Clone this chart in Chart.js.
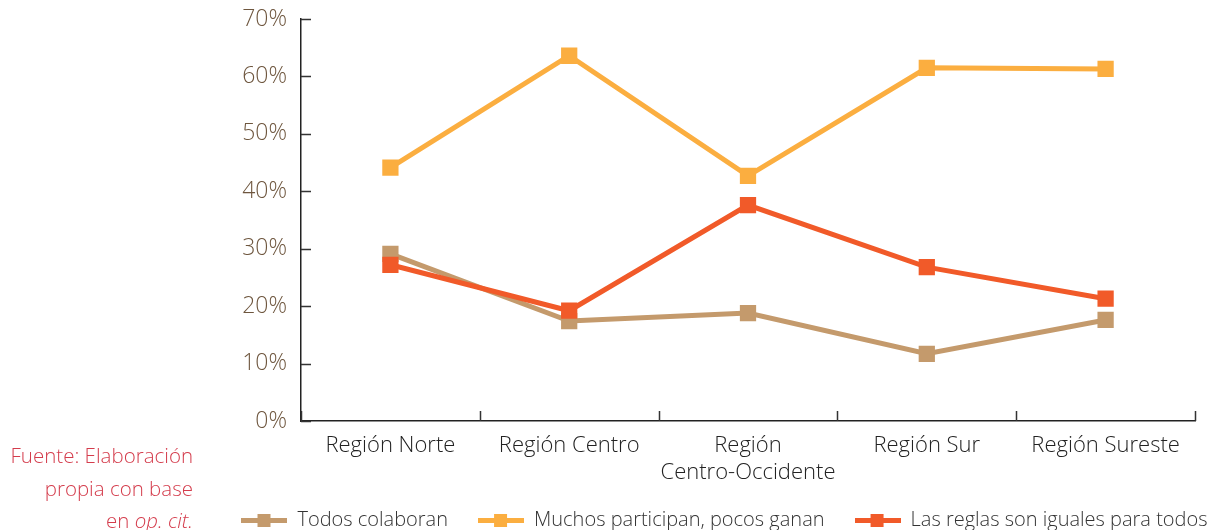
<!DOCTYPE html>
<html>
<head>
<meta charset="utf-8">
<script src="https://cdn.jsdelivr.net/npm/chart.js@4/dist/chart.umd.min.js"></script>
<style>
  html, body { margin: 0; padding: 0; background: #fff; overflow: hidden; }
  #wrap { position: relative; width: 1231px; height: 540px; }
  #note {
    position: absolute; right: 1038px; top: 439px; width: 240px;
    text-align: right; font-family: "Open Sans", sans-serif; font-weight: 300;
    font-size: 20.5px; line-height: 32.5px; color: #d43c4c; white-space: nowrap;
  }
</style>
</head>
<body>
<div id="wrap">
  <canvas id="c" width="1231" height="540"></canvas>
  <div id="note">Fuente: Elaboración<br>propia con base<br>en <i>op. cit.</i></div>
</div>
<script>
const categories = ["Región Norte", "Región Centro", ["Región", "Centro-Occidente"], "Región Sur", "Región Sureste"];
const seriesNames = ["Todos colaboran", "Muchos participan, pocos ganan", "Las reglas son iguales para todos"];
const todosColaboran = [29.1, 17.4, 18.8, 11.7, 17.6];
const muchosParticipan = [44.1, 63.6, 42.7, 61.5, 61.3];
const reglasIguales = [27.2, 19.2, 37.6, 26.8, 21.3];
const yTicks = [0, 10, 20, 30, 40, 50, 60, 70];
const colors = ["#c49a6c", "#fbae40", "#f15a29"];

const FONT = '"Open Sans", sans-serif';

function legendIcon(color) {
  const cv = document.createElement('canvas');
  cv.width = 46; cv.height = 14;
  const g = cv.getContext('2d');
  g.fillStyle = color;
  g.fillRect(0, 5, 46, 5);
  g.fillRect(16, 1, 13, 13);
  return cv;
}

const insideTicks = {
  id: 'insideTicks',
  afterDraw(chart) {
    const ctx = chart.ctx;
    const x = chart.scales.x, y = chart.scales.y;
    ctx.save();
    ctx.strokeStyle = '#333';
    ctx.lineWidth = 1.5;
    ctx.beginPath();
    yTicks.forEach(v => {
      const py = Math.round(y.getPixelForValue(v)) + 0.5;
      ctx.moveTo(x.left, py); ctx.lineTo(x.left + 10, py);
    });
    for (let i = 0; i <= categories.length; i++) {
      const px = Math.round(x.getPixelForValue(i - 0.5)) + 0.5;
      ctx.moveTo(px, y.bottom); ctx.lineTo(px, y.bottom - 10);
    }
    ctx.stroke();
    ctx.restore();
  }
};

const shiftLegend = {
  id: 'shiftLegend',
  afterLayout(chart) {
    const lg = chart.legend;
    if (lg) { lg.left += 52; lg.right += 52; }
  }
};

const data = [todosColaboran, muchosParticipan, reglasIguales];
const orders = [2, 1, 0];

new Chart(document.getElementById('c'), {
  type: 'line',
  data: {
    labels: categories,
    datasets: seriesNames.map((n, i) => ({
      label: n,
      data: data[i],
      borderColor: colors[i],
      backgroundColor: colors[i],
      borderWidth: 5,
      pointStyle: 'rect',
      pointRadius: 11.5,
      pointBorderWidth: 0,
      pointHoverRadius: 11.5,
      tension: 0,
      order: orders[i]
    }))
  },
  options: {
    responsive: false,
    animation: false,
    events: [],
    layout: { padding: { left: 150, right: 36, top: 19, bottom: 0 } },
    plugins: {
      tooltip: { enabled: false },
      legend: {
        position: 'bottom',
        align: 'center',
        labels: {
          usePointStyle: true,
          pointStyleWidth: 46,
          padding: 30,
          color: '#333',
          font: { family: FONT, size: 20, weight: 300 },
          generateLabels(chart) {
            return chart.data.datasets.map((d, i) => ({
              text: d.label,
              pointStyle: legendIcon(colors[i]),
              fontColor: '#333',
              datasetIndex: i,
              hidden: false,
              lineWidth: 0
            }));
          }
        }
      }
    },
    scales: {
      x: {
        offset: true,
        grid: { display: false, offset: true, drawTicks: false },
        border: { display: true, color: '#222', width: 1.5 },
        ticks: {
          padding: 12,
          color: '#222',
          maxRotation: 0,
          autoSkip: false,
          font: { family: FONT, size: 22, weight: 300, lineHeight: 1.2 }
        },
        afterFit(s) { s.height = 59; s.paddingLeft = 0; s.paddingRight = 0; }
      },
      y: {
        min: 0, max: 70,
        grid: { display: false, drawTicks: false },
        border: { display: true, color: '#222', width: 1.5 },
        afterBuildTicks(s) { s.ticks = yTicks.map(v => ({ value: v })); },
        ticks: {
          padding: 14,
          color: '#6e563e',
          font: { family: FONT, size: 23, weight: 300 },
          callback: v => v + '%'
        },
        afterFit(s) { s.width = 151; s.paddingTop = 0; s.paddingBottom = 0; }
      }
    }
  },
  plugins: [insideTicks, shiftLegend]
});
</script>
</body>
</html>
